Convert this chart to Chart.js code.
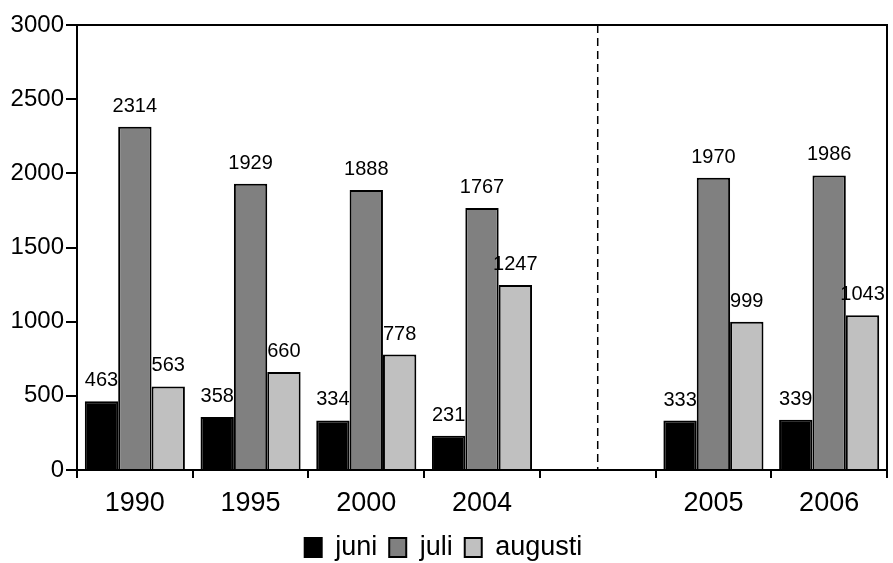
<!DOCTYPE html>
<html>
<head>
<meta charset="utf-8">
<script src="https://cdn.jsdelivr.net/npm/chart.js@4"></script>
<style>
  html, body { margin: 0; padding: 0; background: #fff; }
  #wrap { width: 893px; height: 563px; }
</style>
</head>
<body>
<div id="wrap"><canvas id="bars"></canvas></div>
<script>
// years on the x axis, the blank slot holds the dashed separator
var years = ['1990', '1995', '2000', '2004', '', '2005', '2006'];
var juni = [463, 358, 334, 231, null, 333, 339];
var juli = [2314, 1929, 1888, 1767, null, 1970, 1986];
var augusti = [563, 660, 778, 1247, null, 999, 1043];
var yTicks = [0, 500, 1000, 1500, 2000, 2500, 3000];

var FONT = "'Liberation Sans', Arial, sans-serif";

// numbers above each bar
var valueLabels = {
  id: 'valueLabels',
  afterDatasetsDraw: function (chart) {
    var ctx = chart.ctx;
    ctx.save();
    ctx.font = '20px ' + FONT;
    ctx.fillStyle = '#000';
    ctx.textAlign = 'center';
    ctx.textBaseline = 'alphabetic';
    chart.data.datasets.forEach(function (ds, i) {
      chart.getDatasetMeta(i).data.forEach(function (bar, j) {
        if (ds.data[j] == null) return;
        ctx.fillText(String(ds.data[j]), bar.x, bar.y - 15);
      });
    });
    ctx.restore();
  }
};

// box round the plot and the dashed line in the empty slot
var frame = {
  id: 'frame',
  afterDraw: function (chart) {
    var a = chart.chartArea, ctx = chart.ctx;
    var x = chart.scales.x.getPixelForValue(4);
    ctx.save();
    ctx.strokeStyle = '#000';
    ctx.lineWidth = 2;
    ctx.beginPath();
    ctx.moveTo(a.left, a.top);
    ctx.lineTo(a.right, a.top);
    ctx.lineTo(a.right, a.bottom);
    ctx.stroke();
    ctx.lineWidth = 1.5;
    ctx.setLineDash([8, 5]);
    ctx.beginPath();
    ctx.moveTo(x, a.top);
    ctx.lineTo(x, a.bottom);
    ctx.stroke();
    ctx.restore();
  }
};

// keep the legend strip a fixed height so the plot bottom lands where it should
var legendHeight = {
  id: 'legendHeight',
  beforeInit: function (chart) {
    var fit = chart.legend.fit;
    chart.legend.fit = function () {
      fit.call(this);
      this.height = 41;
    };
  }
};

var config = {
  type: 'bar',
  data: {
    labels: years,
    datasets: [
      { label: 'juni', data: juni, backgroundColor: '#000000', borderColor: '#000', borderWidth: 2 },
      { label: 'juli', data: juli, backgroundColor: '#808080', borderColor: '#000', borderWidth: 2 },
      { label: 'augusti', data: augusti, backgroundColor: '#c0c0c0', borderColor: '#000', borderWidth: 2 }
    ]
  },
  options: {
    responsive: true,
    maintainAspectRatio: false,
    animation: false,
    layout: { padding: { top: 25, right: 6, left: 0, bottom: 0 } },
    datasets: {
      bar: { categoryPercentage: 0.865, barPercentage: 1.0 }
    },
    scales: {
      x: {
        grid: { offset: true, drawOnChartArea: false, color: '#000', lineWidth: 2, tickLength: 8 },
        border: { color: '#000', width: 2 },
        ticks: { color: '#000', font: { size: 27, family: FONT }, padding: 9, maxRotation: 0 },
        afterFit: function (scale) { scale.height = 52; }
      },
      y: {
        min: 0,
        max: 3000,
        afterBuildTicks: function (scale) {
          scale.ticks = yTicks.map(function (v) { return { value: v }; });
        },
        grid: { drawOnChartArea: false, color: '#000', lineWidth: 2, tickLength: 11 },
        border: { color: '#000', width: 2 },
        ticks: {
          color: '#000',
          font: { size: 24, family: FONT },
          padding: 2,
          callback: function (v) { return String(v); }
        },
        afterFit: function (scale) { scale.width = 77; }
      }
    },
    plugins: {
      legend: {
        position: 'bottom',
        labels: {
          color: '#000',
          font: { size: 27, family: FONT },
          boxWidth: 17,
          boxHeight: 19,
          padding: 12
        }
      },
      tooltip: { enabled: false },
      title: { display: false }
    }
  },
  plugins: [valueLabels, frame, legendHeight]
};

window.onload = function () {
  var ctx = document.getElementById('bars').getContext('2d');
  window.myBars = new Chart(ctx, config);
};
</script>
</body>
</html>
